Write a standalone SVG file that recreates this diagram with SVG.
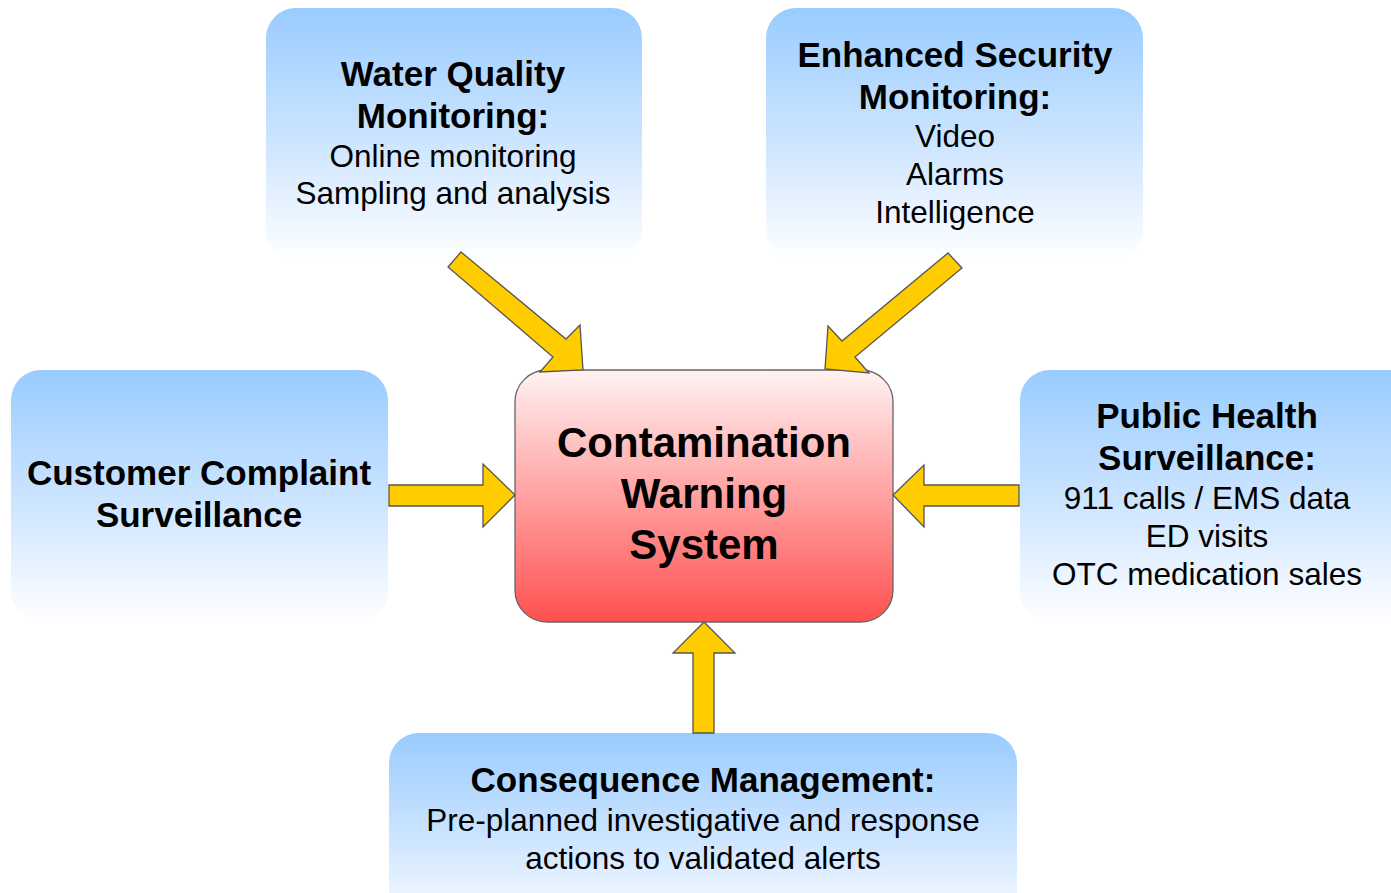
<svg xmlns="http://www.w3.org/2000/svg" width="1391" height="893" viewBox="0 0 1391 893">
<defs>
<linearGradient id="blue" x1="0" y1="0" x2="0" y2="1">
<stop offset="0" stop-color="#99ccff"/>
<stop offset="0.55" stop-color="#cfe6ff"/>
<stop offset="1" stop-color="#ffffff"/>
</linearGradient>
<linearGradient id="red" x1="0" y1="0" x2="0" y2="1">
<stop offset="0" stop-color="#fff2f2"/>
<stop offset="1" stop-color="#ff5050"/>
</linearGradient>
<style>
.box{fill:url(#blue);}
.b{font-family:"Liberation Sans",Arial,sans-serif;font-weight:bold;font-size:35px;fill:#000;text-anchor:middle;}
.r{font-family:"Liberation Sans",Arial,sans-serif;font-size:31.5px;fill:#000;text-anchor:middle;}
.c{font-family:"Liberation Sans",Arial,sans-serif;font-weight:bold;font-size:42px;fill:#000;text-anchor:middle;}
.arr{fill:#ffcc00;stroke:#555;stroke-width:1.3;stroke-linejoin:miter;}
</style>
</defs>
<rect width="1391" height="893" fill="#ffffff"/>

<g id="water-quality">
<rect class="box" x="266" y="8" width="376" height="252" rx="30"/>
<text class="b" x="453" y="86">Water Quality</text>
<text class="b" x="453" y="128">Monitoring:</text>
<text class="r" x="453" y="167">Online monitoring</text>
<text class="r" x="453" y="204">Sampling and analysis</text>
</g>

<g id="enhanced-security">
<rect class="box" x="766" y="8" width="377" height="252" rx="30"/>
<text class="b" x="955" y="67">Enhanced Security</text>
<text class="b" x="955" y="109">Monitoring:</text>
<text class="r" x="955" y="147">Video</text>
<text class="r" x="955" y="185">Alarms</text>
<text class="r" x="955" y="223">Intelligence</text>
</g>

<g id="customer-complaint">
<rect class="box" x="11" y="370" width="377" height="252" rx="30"/>
<text class="b" x="199" y="485">Customer Complaint</text>
<text class="b" x="199" y="527">Surveillance</text>
</g>

<g id="public-health">
<rect class="box" x="1020" y="370" width="400" height="252" rx="30"/>
<text class="b" x="1207" y="428">Public Health</text>
<text class="b" x="1207" y="470">Surveillance:</text>
<text class="r" x="1207" y="509">911 calls / EMS data</text>
<text class="r" x="1207" y="547">ED visits</text>
<text class="r" x="1207" y="585">OTC medication sales</text>
</g>

<g id="consequence-management">
<rect class="box" x="389" y="733" width="628" height="200" rx="30"/>
<text class="b" x="703" y="792">Consequence Management:</text>
<text class="r" x="703" y="831">Pre-planned investigative and response</text>
<text class="r" x="703" y="869">actions to validated alerts</text>
</g>

<g id="cws">
<rect x="515" y="370" width="378" height="252" rx="32" fill="url(#red)" stroke="#666" stroke-width="1.3"/>
<text class="c" x="704" y="457">Contamination</text>
<text class="c" x="704" y="508">Warning</text>
<text class="c" x="704" y="559">System</text>
</g>

<g id="connectors">
<polygon class="arr" points="461,252 566,339 580,325 583,370 540,372 553,357 448,267"/>
<polygon class="arr" points="948,253 842,341 828,326 825,369 869,373 855,357 962,268"/>
<polygon class="arr" points="389,485 483,485 483,464 515,495 483,527 483,506 389,506"/>
<polygon class="arr" points="1019,485 924,485 924,465 893,495 924,527 924,506 1019,506"/>
<polygon class="arr" points="693,733 693,653 673,653 704,622 735,653 714,653 714,733"/>
</g>
</svg>
